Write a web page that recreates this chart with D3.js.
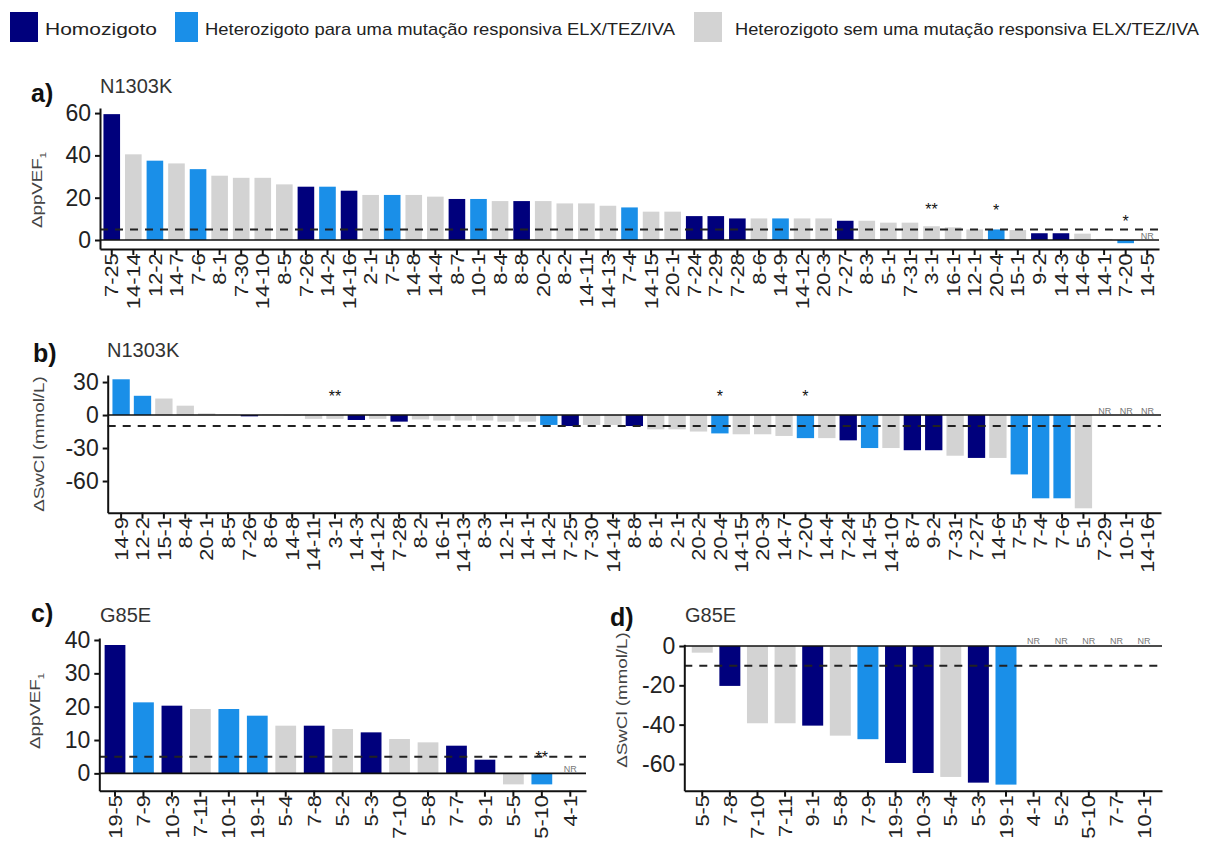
<!DOCTYPE html>
<html>
<head>
<meta charset="utf-8">
<script src="https://cdn.jsdelivr.net/npm/d3@7"></script>
<style>
  body { margin: 0; background: #fff; }
  svg { font-family: "Liberation Sans", Arial, Helvetica, sans-serif; }
</style>
</head>
<body>
<svg width="1207" height="846"></svg>
<script>
// genotype codes: H = homozigoto, R = heterozigoto responsivo, N = heterozigoto nao responsivo
var groupColor = {"H": "#00007c", "R": "#1a8fe8", "N": "#d3d3d3"};

var legendKeys = ["H", "R", "N"];
var legendTexts = ["Homozigoto",
                   "Heterozigoto para uma mutação responsiva ELX/TEZ/IVA",
                   "Heterozigoto sem uma mutação responsiva ELX/TEZ/IVA"];

// a) N1303K, delta ppVEF1 (null = NR)
var aLabels = ["7-25","14-14","12-2","14-7","7-6","8-1","7-30","14-10","8-5","7-26","14-2","14-16","2-1","7-5","14-8","14-4","8-7","10-1","8-4","8-8","20-2","8-2","14-11","14-13","7-4","14-15","20-1","7-24","7-29","7-28","8-6","14-9","14-12","20-3","7-27","8-3","5-1","7-31","3-1","16-1","12-1","20-4","15-1","9-2","14-3","14-6","14-1","7-20","14-5"];
var aValues = [59.5,40.5,37.5,36.2,33.5,30.4,29.4,29.4,26.3,25.2,25.2,23.3,21.3,21.3,21.3,20.5,19.4,19.4,18.4,18.4,18.4,17.3,17.3,16.2,15.4,13.4,13.4,11.3,11.3,10.2,10.2,10.2,10.2,10.2,9.1,9.1,8.2,8.2,6.5,6,5,5,4.7,3.2,3.2,3,0.5,-1.5,null];
var aGroups = ["H","N","R","N","R","N","N","N","N","H","R","H","N","R","N","N","H","R","N","H","N","N","N","N","R","N","N","H","H","H","N","R","N","N","H","N","N","N","N","N","N","R","N","H","H","N","N","R","N"];
var aStars = [["3-1","**",15.5],["20-4","*",15],["7-20","*",10]];

// b) N1303K, delta SwCl
var bLabels = ["14-9","12-2","15-1","8-4","20-1","8-5","7-26","8-6","14-8","14-11","3-1","14-3","14-12","7-28","8-2","16-1","14-13","8-3","12-1","14-1","14-2","7-25","7-30","14-14","8-8","8-1","2-1","20-2","20-4","14-15","20-3","14-7","7-20","14-4","7-24","14-5","14-10","8-7","9-2","7-31","7-27","14-6","7-5","7-4","7-6","5-1","7-29","10-1","14-16"];
var bValues = [32.5,17.5,15,8.5,1.5,0.4,-1.2,0.3,-0.4,-3.5,-3.5,-4.5,-3.5,-6,-4,-5,-5,-5,-6,-6,-9,-10,-9,-9,-10,-13,-13,-15,-16.7,-17.5,-17.5,-19,-21,-21,-23,-30,-30,-32,-32,-37,-39,-39,-54,-75.7,-75.7,-84.8,null,null,null];
var bGroups = ["R","R","N","N","N","N","H","N","N","N","N","H","N","H","N","N","N","N","N","N","R","H","N","N","H","N","N","N","R","N","N","N","R","N","H","R","N","H","H","N","H","N","R","R","R","N","H","R","H"];
var bStars = [["3-1","**",19],["20-4","*",19],["7-20","*",19]];

// c) G85E, delta ppVEF1
var cLabels = ["19-5","7-9","10-3","7-11","10-1","19-1","5-4","7-8","5-2","5-3","7-10","5-8","7-7","9-1","5-5","5-10","4-1"];
var cValues = [38.5,21.3,20.3,19.3,19.3,17.3,14.3,14.3,13.3,12.3,10.3,9.3,8.3,4.1,-3.3,-3.3,null];
var cGroups = ["H","R","H","N","R","R","N","H","N","H","N","N","H","H","N","R","N"];
var cStars = [["5-10","**",5.6]];

// d) G85E, delta SwCl
var dLabels = ["5-5","7-8","7-10","7-11","9-1","5-8","7-9","19-5","10-3","5-4","5-3","19-1","4-1","5-2","5-10","7-7","10-1"];
var dValues = [-3.4,-20.3,-39.3,-39.3,-40.5,-45.6,-47.4,-59.5,-64.6,-66.6,-69.5,-70.5,null,null,null,null,null];
var dGroups = ["N","H","N","N","H","N","R","H","H","N","H","R","N","N","N","N","N"];
var dStars = [];

var svg = d3.select("svg");

// legend
var legendSwatchX = [10, 175, 694];
var legendSwatchW = [28, 23, 28];
var legendTextX = [45, 205, 735];
var legendTextW = [112, 470, 464];
legendKeys.forEach(function(k, i)
{
  svg.append("rect")
     .attr("x", legendSwatchX[i]).attr("y", 12)
     .attr("width", legendSwatchW[i]).attr("height", 30)
     .attr("fill", groupColor[k]);
  svg.append("text")
     .attr("x", legendTextX[i]).attr("y", 35)
     .attr("font-size", 17)
     .attr("fill", "#222")
     .attr("textLength", legendTextW[i])
     .attr("lengthAdjust", "spacingAndGlyphs")
     .text(legendTexts[i]);
});

function drawPanel(p)
{
  var g = svg.append("g");

  var x = d3.scaleBand()
            .domain(p.labels)
            .range([p.left, p.right])
            .paddingInner(p.padIn)
            .paddingOuter(p.padOut);

  var y = d3.scaleLinear()
            .domain(p.yDomain)
            .range([p.bottom, p.top]);

  // bars
  var rows = p.labels.map(function(l, i) { return {label: l, value: p.values[i], group: p.groups[i]}; });

  g.selectAll(".bar")
   .data(rows.filter(function(d) { return d.value !== null; }))
   .enter()
   .append("rect")
   .attr("class", "bar")
   .attr("x", function(d) { return x(d.label); })
   .attr("width", x.bandwidth())
   .attr("y", function(d) { return y(Math.max(0, d.value)); })
   .attr("height", function(d) { return Math.abs(y(d.value) - y(0)); })
   .attr("fill", function(d) { return groupColor[d.group]; });

  // zero line
  g.append("line")
   .attr("x1", p.left).attr("x2", p.right)
   .attr("y1", y(0)).attr("y2", y(0))
   .attr("stroke", "#111").attr("stroke-width", 1.6);

  // threshold
  g.append("line")
   .attr("x1", p.left).attr("x2", p.right)
   .attr("y1", y(p.threshold)).attr("y2", y(p.threshold))
   .attr("stroke", "#222").attr("stroke-width", 2)
   .attr("stroke-dasharray", "8,7");

  // NR labels
  g.selectAll(".nr")
   .data(rows.filter(function(d) { return d.value === null; }))
   .enter()
   .append("text")
   .attr("class", "nr")
   .attr("x", function(d) { return x(d.label) + x.bandwidth() / 2; })
   .attr("y", y(0) - 1.5)
   .attr("text-anchor", "middle")
   .attr("font-size", 9)
   .attr("fill", "#777")
   .text("NR");

  // significance marks
  g.selectAll(".star")
   .data(p.stars)
   .enter()
   .append("text")
   .attr("class", "star")
   .attr("x", function(d) { return x(d[0]) + x.bandwidth() / 2; })
   .attr("y", function(d) { return y(d[2]) + 8; })
   .attr("text-anchor", "middle")
   .attr("font-size", 16)
   .attr("fill", "#111")
   .text(function(d) { return d[1]; });

  // axes (plain hyphen for negatives, as in the original)
  var yAxis = g.append("g")
               .attr("transform", "translate(" + p.left + ",0)")
               .call(d3.axisLeft(y).tickValues(p.yTicks).tickFormat(function(d) { return String(d); })
                       .tickSize(5).tickSizeOuter(0).tickPadding(4));
  yAxis.selectAll("text").attr("font-size", 23).attr("fill", "#222");

  var xAxis = g.append("g")
               .attr("transform", "translate(0," + p.bottom + ")")
               .call(d3.axisBottom(x).tickSize(6).tickSizeOuter(0));
  xAxis.selectAll("text")
       .attr("font-size", 19)
       .attr("fill", "#222")
       .attr("text-anchor", "end")
       .attr("dy", "0.35em")
       .attr("transform", "translate(0,2) rotate(-90) scale(1.15,1)")
       .attr("x", -2)
       .attr("y", 0);

  g.selectAll(".domain, .tick line").attr("stroke", "#111").attr("stroke-width", 2);

  // titles
  g.append("text")
   .attr("x", p.tagX).attr("y", p.tagY)
   .attr("font-size", 25).attr("font-weight", "bold").attr("fill", "#111")
   .text(p.tag);
  g.append("text")
   .attr("x", p.subX).attr("y", p.subY)
   .attr("font-size", 20).attr("fill", "#333")
   .text(p.sub);

  // y label
  var yl = g.append("text")
            .attr("transform", "translate(" + p.ylabX + "," + p.ylabY + ") rotate(-90) scale(1.25,1)")
            .attr("text-anchor", "middle")
            .attr("font-size", 15)
            .attr("fill", "#444");
  if (p.ylab == "ppVEF")
  {
    yl.append("tspan").text("ΔppVEF");
    yl.append("tspan").attr("font-size", 9).attr("dy", 4).text("1");
  }
  else
    yl.text("ΔSwCl (mmol/L)");
}

drawPanel({labels: aLabels, values: aValues, groups: aGroups, stars: aStars,
           left: 100, right: 1159, padIn: 0.23, padOut: 0.16,
           yDomain: [-4.25, 62.4], top: 108, bottom: 249, yTicks: [0, 20, 40, 60], threshold: 5,
           tag: "a)", tagX: 31, tagY: 102, sub: "N1303K", subX: 100, subY: 93,
           ylab: "ppVEF", ylabX: 42, ylabY: 190});

drawPanel({labels: bLabels, values: bValues, groups: bGroups, stars: bStars,
           left: 107.7, right: 1161, padIn: 0.19, padOut: 0.222,
           yDomain: [-88.8, 36.4], top: 375, bottom: 512.7, yTicks: [30, 0, -30, -60], threshold: -10,
           tag: "b)", tagX: 33, tagY: 362, sub: "N1303K", subX: 107, subY: 357,
           ylab: "SwCl", ylabX: 44, ylabY: 444});

drawPanel({labels: cLabels, values: cValues, groups: cGroups, stars: cStars,
           left: 99.3, right: 586, padIn: 0.27, padOut: 0.187,
           yDomain: [-5.2, 40.6], top: 638, bottom: 790.7, yTicks: [0, 10, 20, 30, 40], threshold: 5,
           tag: "c)", tagX: 31, tagY: 622, sub: "G85E", subX: 100, subY: 622,
           ylab: "ppVEF", ylabX: 40, ylabY: 711});

drawPanel({labels: dLabels, values: dValues, groups: dGroups, stars: dStars,
           left: 684.3, right: 1162, padIn: 0.24, padOut: 0.27,
           yDomain: [-73.6, 0.86], top: 644.3, bottom: 790.7, yTicks: [0, -20, -40, -60], threshold: -10,
           tag: "d)", tagX: 610, tagY: 626, sub: "G85E", subX: 685, subY: 622,
           ylab: "SwCl", ylabX: 627, ylabY: 700});
</script>
</body>
</html>
